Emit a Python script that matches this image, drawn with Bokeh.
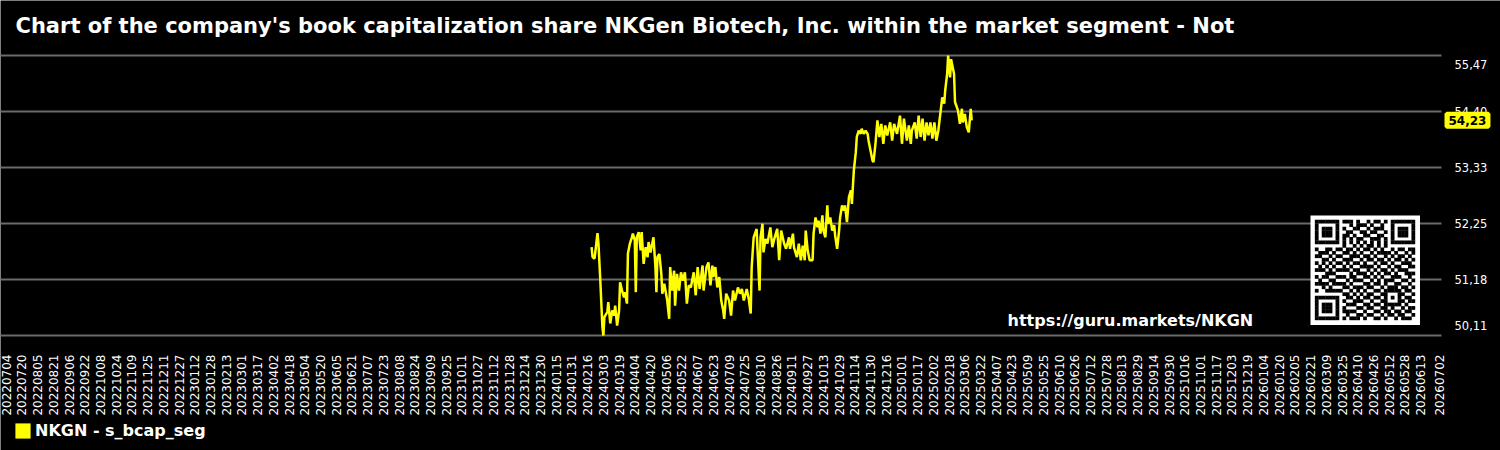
import math
import pandas as pd
from bokeh.plotting import figure
from bokeh.models import (Range1d, FixedTicker, CustomJSTickFormatter, Label, LinearAxis,
                          Legend, LegendItem, ColumnDataSource)
from bokeh.embed import file_html
from bokeh.resources import INLINE

# ---------------- data ----------------
title_text = "Chart of the company's book capitalization share NKGen Biotech, Inc. within the market segment - Not"
series_name = "NKGN - s_bcap_seg"
watermark_text = "https://guru.markets/NKGN"

dates = [
    "2024-02-20", "2024-02-21", "2024-02-23", "2024-02-24", "2024-02-26", "2024-02-27", "2024-02-29",
    "2024-03-02", "2024-03-03", "2024-03-04", "2024-03-07", "2024-03-08", "2024-03-10", "2024-03-12",
    "2024-03-14", "2024-03-15", "2024-03-17", "2024-03-19", "2024-03-20", "2024-03-22", "2024-03-24",
    "2024-03-25", "2024-03-27", "2024-03-28", "2024-03-30", "2024-04-01", "2024-04-02", "2024-04-04",
    "2024-04-05", "2024-04-06", "2024-04-08", "2024-04-10", "2024-04-11", "2024-04-13", "2024-04-15",
    "2024-04-17", "2024-04-18", "2024-04-20", "2024-04-23", "2024-04-25", "2024-04-26", "2024-04-27",
    "2024-04-29", "2024-05-01", "2024-05-02", "2024-05-04", "2024-05-07", "2024-05-09", "2024-05-10",
    "2024-05-12", "2024-05-14", "2024-05-15", "2024-05-17", "2024-05-19", "2024-05-21", "2024-05-23",
    "2024-05-25", "2024-05-27", "2024-05-29", "2024-05-31", "2024-06-03", "2024-06-05", "2024-06-07",
    "2024-06-09", "2024-06-12", "2024-06-13", "2024-06-16", "2024-06-18", "2024-06-20", "2024-06-22",
    "2024-06-23", "2024-06-25", "2024-06-27", "2024-06-29", "2024-07-01", "2024-07-03", "2024-07-04",
    "2024-07-06", "2024-07-09", "2024-07-11", "2024-07-13", "2024-07-15", "2024-07-18", "2024-07-20",
    "2024-07-22", "2024-07-24", "2024-07-27", "2024-07-29", "2024-07-31", "2024-08-01", "2024-08-03",
    "2024-08-06", "2024-08-07", "2024-08-09", "2024-08-10", "2024-08-12", "2024-08-13", "2024-08-15",
    "2024-08-17", "2024-08-20", "2024-08-22", "2024-08-24", "2024-08-27", "2024-08-29", "2024-08-31",
    "2024-09-03", "2024-09-05", "2024-09-08", "2024-09-09", "2024-09-12", "2024-09-13", "2024-09-16",
    "2024-09-18", "2024-09-20", "2024-09-22", "2024-09-24", "2024-09-25", "2024-09-27", "2024-09-29",
    "2024-10-02", "2024-10-03", "2024-10-05", "2024-10-07", "2024-10-08", "2024-10-10", "2024-10-12",
    "2024-10-13", "2024-10-15", "2024-10-17", "2024-10-18", "2024-10-20", "2024-10-22", "2024-10-24",
    "2024-10-25", "2024-10-27", "2024-10-29", "2024-10-30", "2024-11-01", "2024-11-03", "2024-11-04",
    "2024-11-06", "2024-11-08", "2024-11-10", "2024-11-11", "2024-11-13", "2024-11-15", "2024-11-16",
    "2024-11-18", "2024-11-20", "2024-11-21", "2024-11-23", "2024-11-25", "2024-11-27", "2024-11-28",
    "2024-12-02", "2024-12-03", "2024-12-05", "2024-12-07", "2024-12-09", "2024-12-11", "2024-12-13",
    "2024-12-15", "2024-12-17", "2024-12-20", "2024-12-22", "2024-12-24", "2024-12-27", "2024-12-30",
    "2025-01-01", "2025-01-03", "2025-01-06", "2025-01-08", "2025-01-10", "2025-01-11", "2025-01-14",
    "2025-01-16", "2025-01-18", "2025-01-20", "2025-01-22", "2025-01-24", "2025-01-26", "2025-01-28",
    "2025-01-30", "2025-02-01", "2025-02-03", "2025-02-05", "2025-02-07", "2025-02-09", "2025-02-11",
    "2025-02-13", "2025-02-14", "2025-02-16", "2025-02-17", "2025-02-19", "2025-02-20", "2025-02-23",
    "2025-02-24", "2025-02-27", "2025-03-01", "2025-03-03", "2025-03-04", "2025-03-06", "2025-03-08",
    "2025-03-10", "2025-03-12", "2025-03-13",
]

values = [
    51.80, 51.61, 51.58, 51.74, 52.07, 51.87, 51.11,
    50.27, 50.11, 50.46, 50.56, 50.75, 50.34, 50.59,
    50.49, 50.68, 50.30, 50.59, 51.13, 50.97, 50.84,
    50.94, 50.72, 51.68, 51.87, 51.99, 52.06, 51.93,
    50.94, 51.99, 52.09, 51.74, 52.09, 51.48, 51.80,
    51.61, 51.90, 51.70, 51.99, 51.42, 50.94, 51.61,
    51.67, 51.29, 50.91, 51.10, 50.78, 50.43, 51.42,
    50.97, 51.35, 50.68, 51.29, 50.97, 51.32, 51.16,
    51.32, 50.72, 51.07, 51.03, 51.32, 50.88, 51.42,
    51.00, 51.45, 50.97, 51.42, 51.51, 51.07, 51.45,
    51.23, 51.42, 51.03, 51.23, 50.78, 50.59, 50.43,
    50.91, 50.78, 50.49, 50.97, 50.78, 51.03, 50.91,
    51.00, 50.78, 51.00, 50.81, 50.53, 51.42, 51.99,
    52.15, 51.74, 50.97, 51.99, 52.25, 51.70, 51.96,
    51.87, 52.18, 51.80, 51.96, 52.15, 51.55, 52.12,
    51.87, 51.77, 51.99, 51.77, 52.06, 51.80, 51.61,
    51.87, 51.55, 51.83, 51.55, 52.12, 51.74, 51.55,
    51.55, 52.06, 52.37, 52.18, 52.31, 52.06, 52.41,
    52.12, 51.99, 52.60, 52.25, 52.37, 52.12, 52.22,
    52.02, 51.77, 52.12, 52.37, 52.60, 52.50, 52.60,
    52.28, 52.76, 52.89, 52.63, 53.27, 53.62, 53.91,
    54.03, 53.97, 54.07, 53.97, 54.03, 53.97, 53.84,
    53.46, 53.43, 53.78, 54.23, 53.91, 54.16, 53.78,
    54.13, 53.94, 54.19, 53.84, 54.16, 53.97, 54.32,
    53.78, 54.26, 53.84, 54.13, 53.78, 54.03, 54.19,
    53.88, 54.32, 53.91, 54.26, 53.84, 54.19, 53.94,
    54.19, 53.88, 54.19, 53.84, 54.03, 54.35, 54.67,
    54.55, 54.80, 55.12, 55.47, 55.05, 55.40, 55.12,
    54.58, 54.42, 54.16, 54.45, 54.19, 54.35, 54.10,
    54.00, 54.45, 54.23,
]

x_tick_labels = [
    "20220704", "20220720", "20220805", "20220821", "20220906", "20220922", "20221008", "20221024",
    "20221109", "20221125", "20221211", "20221227",
    "20230112", "20230128", "20230213", "20230301", "20230317", "20230402", "20230418", "20230504",
    "20230520", "20230605", "20230621", "20230707", "20230723", "20230808", "20230824", "20230909",
    "20230925", "20231011", "20231027", "20231112", "20231128", "20231214", "20231230",
    "20240115", "20240131", "20240216", "20240303", "20240319", "20240404", "20240420", "20240506",
    "20240522", "20240607", "20240623", "20240709", "20240725", "20240810", "20240826", "20240911",
    "20240927", "20241013", "20241029", "20241114", "20241130", "20241216",
    "20250101", "20250117", "20250202", "20250218", "20250306", "20250322", "20250407", "20250423",
    "20250509", "20250525", "20250610", "20250626", "20250712", "20250728", "20250813", "20250829",
    "20250914", "20250930", "20251016", "20251101", "20251117", "20251203", "20251219",
    "20260104", "20260120", "20260205", "20260221", "20260309", "20260325", "20260410", "20260426",
    "20260512", "20260528", "20260613", "20260702",
]

y_min, y_max = 50.11, 55.47
y_tick_values = [50.11, 51.182, 52.254, 53.326, 54.398, 55.47]
last_value = 54.23

# decorative QR-like badge pattern (29 x 29 modules)
qr_rows = [
    "10110010111010010110100101101", "01101101001011101001011010010",
    "11010011100110010111001101011", "00111010011001101100110010110",
    "10100101110100110011011101001", "01011100101011001110100110110",
    "11100011010110110001011001011", "00101110100101011010110110100",
    "10011001011010110101001011011", "01110110110101001011110100101",
    "11001011001110110100101011010", "00110100111001011011010110101",
    "10101011010110100101101001110", "01010110101001111010010110011",
    "11101001110110010101101011100", "00011110001011101010110100111",
    "10110001101100110101001110010", "01001110010111001010111001101",
    "11110101101000110110100110010", "00101010110111011001011101101",
    "10011101001010100110110010110", "01100110110101011001001111001",
    "11011001011010110110110100110", "00110110100111001001101011011",
    "10101001011100110110010110100", "01011110100011011001101001011",
    "11000101111100100110110110110", "00111010010011011001011011001",
    "10100111101110100110100101110",
]

# ---------------- layout constants (pixels) ----------------
W, H = 1500, 450
PLOT_RIGHT = 1441                 # where the grid lines / value scale start
GRID_TOP, GRID_BOTTOM = 55, 335   # pixel rows of y_max and y_min
END_LABEL_SHIFT_TOP, END_LABEL_SHIFT_BOTTOM = 9, 10
YELLOW = "#ffff00"
GRID = "#6a6a6a"
FONT = "DejaVu Sans"

DAY = 86400000.0
def ms(s):
    return pd.Timestamp(s).timestamp() * 1000.0

x_start = ms("2022-07-04") - 5.8 * DAY
ms_per_px = (1467.1 * DAY) / PLOT_RIGHT
x_end = x_start + W * ms_per_px
k = (y_max - y_min) / (GRID_BOTTOM - GRID_TOP)      # value per pixel

def px2x(px):
    return x_start + px * ms_per_px

def py2y(py):
    return y_max - (py - GRID_TOP) * k

# the frame covers the whole canvas; axes are pinned with fixed_location
p = figure(width=W, height=H, title=None, x_axis_type="datetime", y_axis_location=None,
           x_range=Range1d(x_start, x_end), y_range=Range1d(py2y(H), py2y(0)),
           output_backend="svg", toolbar_location=None,
           min_border_left=0, min_border_right=0, min_border_top=0, min_border_bottom=0,
           background_fill_color="black", border_fill_color="black",
           outline_line_color=None)
p.xgrid.visible = False
p.ygrid.visible = False

# x axis (dates)
xax = p.xaxis[0]
xax.fixed_location = y_min
xax.ticker = FixedTicker(ticks=[ms(s) for s in x_tick_labels])
xax.formatter = CustomJSTickFormatter(code="""
const d = new Date(tick);
const m = String(d.getUTCMonth() + 1).padStart(2, '0');
const dd = String(d.getUTCDate()).padStart(2, '0');
return '' + d.getUTCFullYear() + m + dd;
""")
xax.major_label_orientation = math.pi / 2
xax.major_label_text_font = FONT
xax.major_label_text_font_size = "12px"
xax.major_label_text_color = "white"
xax.major_label_standoff = 13
xax.axis_line_color = None
xax.major_tick_line_color = None
xax.minor_tick_line_color = None

# horizontal grid lines (ending before the value scale)
p.segment(x0=[x_start] * len(y_tick_values), x1=[px2x(PLOT_RIGHT)] * len(y_tick_values),
          y0=y_tick_values, y1=y_tick_values, line_color=GRID, line_width=2)

# value scale on the right
comma_fmt = CustomJSTickFormatter(code="return tick.toFixed(2).replace('.', ',');")
def value_axis(ticks, range_name="default"):
    ax = LinearAxis(y_range_name=range_name, fixed_location=px2x(PLOT_RIGHT),
                    ticker=FixedTicker(ticks=ticks), formatter=comma_fmt,
                    major_label_text_font=FONT, major_label_text_font_size="11.5px",
                    major_label_text_color="white", major_label_standoff=7,
                    axis_line_color=None, major_tick_line_color=None,
                    minor_tick_line_color=None)
    p.add_layout(ax, "right")
    return ax

value_axis(y_tick_values[1:-1])
# the two end labels sit slightly inside the grid, as in the reference
k_end = (y_max - y_min) / ((GRID_BOTTOM - END_LABEL_SHIFT_BOTTOM) - (GRID_TOP + END_LABEL_SHIFT_TOP))
top_px = GRID_TOP + END_LABEL_SHIFT_TOP
p.extra_y_ranges = {"ends": Range1d(y_max - (H - top_px) * k_end, y_max + top_px * k_end)}
value_axis([y_tick_values[0], y_tick_values[-1]], "ends")

# QR-like decoration
qr_n = 29
mod = 3.45
qr_x0, qr_y0 = 1314.5, 219.5
p.quad(left=[px2x(1310)], right=[px2x(1419.5)], top=[py2y(215)], bottom=[py2y(324.5)],
       fill_color="white", line_color=None)
grid = [[int(c) for c in r.ljust(qr_n, "0")[:qr_n]] for r in qr_rows]
def put_finder(r0, c0):
    for r in range(-1, 8):
        for c in range(-1, 8):
            rr, cc = r0 + r, c0 + c
            if 0 <= rr < qr_n and 0 <= cc < qr_n:
                on = (0 <= r <= 6 and 0 <= c <= 6) and (r in (0, 6) or c in (0, 6) or (2 <= r <= 4 and 2 <= c <= 4))
                grid[rr][cc] = 1 if on else 0
put_finder(0, 0); put_finder(0, qr_n - 7); put_finder(qr_n - 7, 0)
for i in range(8, qr_n - 8):
    grid[6][i] = 1 if i % 2 == 0 else 0
    grid[i][6] = 1 if i % 2 == 0 else 0
for r in range(20, 25):
    for c in range(20, 25):
        grid[r][c] = 1 if (r in (20, 24) or c in (20, 24) or (r == 22 and c == 22)) else 0
qx, qy = [], []
for r in range(qr_n):
    for c in range(qr_n):
        if grid[r][c]:
            qx.append(px2x(qr_x0 + (c + 0.5) * mod))
            qy.append(py2y(qr_y0 + (r + 0.5) * mod))
p.rect(x=qx, y=qy, width=mod + 0.3, height=mod + 0.3, width_units="screen",
       height_units="screen", fill_color="black", line_color=None)

# series line
src = ColumnDataSource(dict(x=pd.to_datetime(dates), y=values))
p.line("x", "y", source=src, line_color=YELLOW, line_width=2.5)

# title
p.add_layout(Label(x=px2x(15), y=py2y(25), text=title_text, text_font=FONT,
                   text_font_style="bold", text_font_size="21px", text_color="white",
                   text_baseline="middle", text_align="left"))

# watermark
p.add_layout(Label(x=px2x(1007), y=py2y(320), text=watermark_text, text_font=FONT,
                   text_font_style="bold", text_font_size="16px", text_color="white",
                   text_baseline="middle", text_align="left"))

# last value badge
p.add_layout(Label(x=px2x(PLOT_RIGHT + 5), y=last_value,
                   text=f"{last_value:.2f}".replace(".", ","),
                   text_font=FONT, text_font_style="bold", text_font_size="12px",
                   text_color="black", text_baseline="middle", text_align="left",
                   background_fill_color=YELLOW, border_line_color=YELLOW,
                   border_line_width=4, padding=2))

# legend (square swatch) at the bottom-left; the swatch renderer draws nothing itself
swatch = p.quad(left=[float("nan")], right=[float("nan")], top=[float("nan")],
                bottom=[float("nan")], fill_color=YELLOW, line_color=None)
legend = Legend(items=[LegendItem(label=series_name, renderers=[swatch])],
                location=(13, 10), orientation="horizontal",
                glyph_width=19, glyph_height=19, label_height=19, label_standoff=3,
                padding=0, margin=0, spacing=0,
                background_fill_alpha=0, border_line_color=None,
                label_text_color="white", label_text_font=FONT,
                label_text_font_style="bold", label_text_font_size="16px")
p.add_layout(legend)

open("out.html", "w").write(file_html(p, INLINE))
